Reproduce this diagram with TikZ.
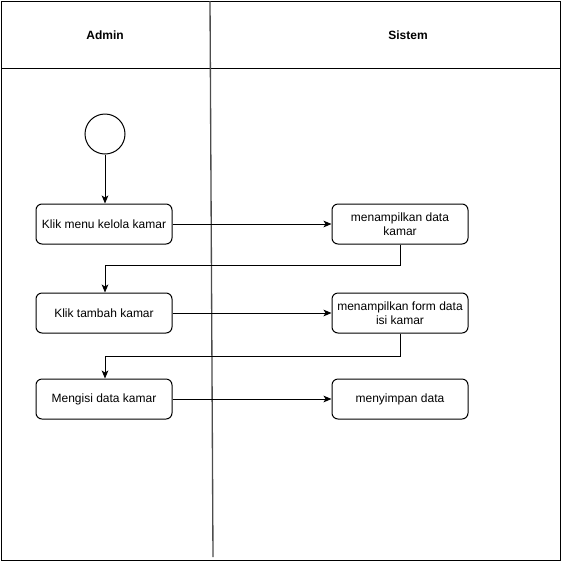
\documentclass[tikz,border=0pt]{standalone}
\usepackage{fontspec}
\setmainfont{Liberation Sans}
\usetikzlibrary{positioning, calc}
\usetikzlibrary{arrows, arrows.meta}

\begin{document}
\begin{tikzpicture}[x=0.75pt, y=-0.75pt, line width=0.75pt, font=\fontsize{9}{10.5}\selectfont,
    act/.style={draw, rounded corners=4.5pt, minimum width=102pt, minimum height=30pt, align=center, inner sep=1pt},
    lane/.style={font=\fontsize{9}{10.5}\selectfont\bfseries},
    flow/.style={-{Stealth[length=6pt, width=5pt, inset=1.5pt]}}]
            \useasboundingbox (0,0) rectangle (563,561);
            % lanes
            \draw (1,1) rectangle (560,560);
            \draw (1,68) -- (560,68);
            \draw[black!70, line width=1pt] (210,1) -- (213,557);
            \node[lane] (admin) at (105,35) {Admin};
            \node[lane] (sistem) at (408,35) {Sistem};
            % start
            \node[draw, circle, minimum size=30pt, inner sep=0pt] (start) at (105,134) {};
            % activities
            \node[act] (kelola) at (104,224) {Klik menu kelola kamar};
            \node[act] (tampil) at (400,224) {menampilkan data\\kamar};
            \node[act] (tambah) at (104,313) {Klik tambah kamar};
            \node[act] (form) at (400,313) {menampilkan form data\\isi kamar};
            \node[act] (isi) at (104,399) {Mengisi data kamar};
            \node[act] (simpan) at (400,399) {menyimpan data};
            % flows
            \draw[flow] (start) -- (start |- kelola.north);
            \draw[flow] (kelola) -- (tampil);
            \draw[flow] (tampil.south) -- ++(0,21) -| (start |- tambah.north);
            \draw[flow] (tambah) -- (form);
            \draw[flow] (form.south) -- ++(0,23) -| (start |- isi.north);
            \draw[flow] (isi) -- (simpan);
        \end{tikzpicture}
\end{document}
